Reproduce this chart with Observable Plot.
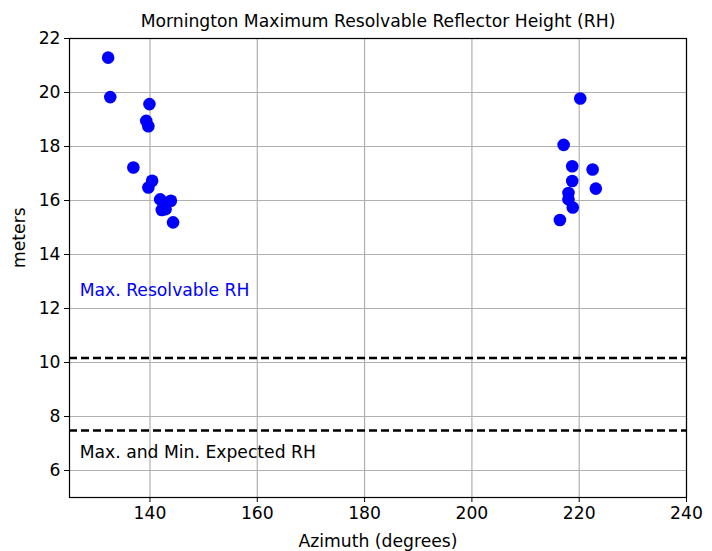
<!DOCTYPE html>
<html>
<head>
<meta charset="utf-8">
<script src="https://cdn.jsdelivr.net/npm/d3@7"></script>
<script src="https://cdn.jsdelivr.net/npm/@observablehq/plot@0.6"></script>
<style>
  html, body { margin: 0; padding: 0; background: #fff; }
  svg { font-family: "DejaVu Sans", sans-serif; }
</style>
</head>
<body>
<div id="chart"></div>
<script>
const titleText = "Mornington Maximum Resolvable Reflector Height (RH)";
const xLabel = "Azimuth (degrees)";
const yLabel = "meters";
const azimuth = [132.2, 132.6, 139.9, 139.3, 139.7, 136.9, 140.4, 139.7, 141.9, 143.9, 142.6, 142.2, 142.9, 144.3,
                 220.2, 217.1, 218.7, 222.5, 218.7, 223.1, 218.0, 218.0, 218.8, 216.4];
const rh = [21.29, 19.83, 19.57, 18.95, 18.75, 17.22, 16.73, 16.48, 16.04, 15.99, 15.86, 15.65, 15.68, 15.19,
            19.78, 18.06, 17.27, 17.15, 16.72, 16.44, 16.28, 16.04, 15.74, 15.28];
const refLines = [10.17, 7.48];
const annotations = ["Max. Resolvable RH", "Max. and Min. Expected RH"];
const annotationY = [12.67, 6.68];
const annotationColor = ["blue", "black"];
const xTicks = [140, 160, 180, 200, 220, 240];
const yTicks = [6, 8, 10, 12, 14, 16, 18, 20, 22];

const points = azimuth.map((a, i) => ({az: a, h: rh[i]}));
const notes = annotations.map((t, i) => ({t, y: annotationY[i], c: annotationColor[i]}));
const FS = 17.2;

const chart = Plot.plot({
  width: 712,
  height: 551,
  marginLeft: 69,
  marginRight: 26,
  marginTop: 38,
  marginBottom: 54,
  style: {fontSize: FS + "px", fontFamily: "DejaVu Sans, sans-serif", color: "black", background: "white"},
  x: {domain: [125, 240], ticks: xTicks},
  y: {domain: [5, 22], ticks: yTicks},
  marks: [
    Plot.gridX(xTicks, {stroke: "#b0b0b0", strokeOpacity: 1, strokeWidth: 1.2}),
    Plot.gridY(yTicks, {stroke: "#b0b0b0", strokeOpacity: 1, strokeWidth: 1.2}),
    Plot.ruleY(refLines, {stroke: "black", strokeWidth: 2.5, strokeDasharray: "8,4"}),
    Plot.dot(points, {x: "az", y: "h", r: 6.3, fill: "blue", stroke: null}),
    Plot.text(notes, {x: () => 126.9, y: "y", text: "t", fill: "c", textAnchor: "start", fontSize: FS}),
    Plot.frame({stroke: "black", strokeWidth: 1.2}),
    Plot.axisX(xTicks, {tickSize: 5, tickPadding: 4, label: null, fontSize: FS}),
    Plot.axisY(yTicks, {tickSize: 5, tickPadding: 4, label: null, fontSize: FS}),
    Plot.text([xLabel], {frameAnchor: "bottom", lineAnchor: "middle", dy: 44, fontSize: FS}),
    Plot.text([yLabel], {frameAnchor: "left", dx: -50, rotate: -90, fontSize: FS}),
    Plot.text([titleText], {frameAnchor: "top", lineAnchor: "middle", dy: -17, fontSize: FS})
  ]
});
document.getElementById("chart").appendChild(chart);
</script>
</body>
</html>
